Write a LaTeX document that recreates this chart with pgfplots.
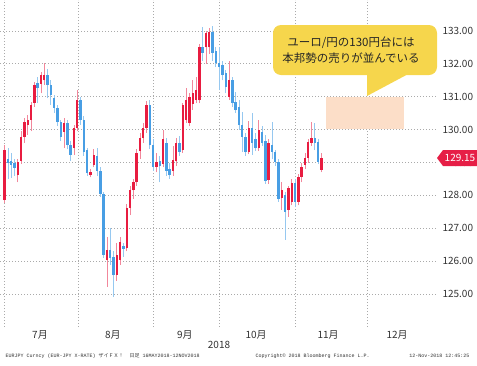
\documentclass[border=0pt]{standalone}
\usepackage{fontspec}
\setmainfont{Noto Sans CJK JP}
\newfontfamily\jp{Noto Sans CJK JP}
\newfontfamily\mono{Liberation Mono}
\usepackage{pgfplots}
\pgfplotsset{compat=1.18}
\usepackage{pgfplotstable}

\definecolor{upc}{RGB}{232,28,64}
\definecolor{upw}{RGB}{242,135,155}
\definecolor{dnc}{RGB}{72,158,228}
\definecolor{dnw}{RGB}{150,200,240}
\definecolor{gridc}{RGB}{170,170,170}
\definecolor{bubble}{RGB}{246,214,76}
\definecolor{zone}{RGB}{252,222,200}
\definecolor{tagc}{RGB}{230,30,70}
\definecolor{txt}{RGB}{50,50,50}

% up candles (close > open)
\pgfplotstableread{
k O H L C
0 127.86 129.53 127.78 129.38
4 128.62 129.10 128.40 129.02
5 129.05 129.95 128.95 129.78
6 129.78 130.35 129.60 130.23
7 130.14 130.45 129.85 130.30
8 130.29 130.85 129.95 130.75
9 130.81 131.45 130.70 131.36
11 131.40 131.75 131.10 131.66
12 131.50 132.03 131.35 131.66
18 129.93 130.35 129.44 130.20
21 129.44 130.15 129.23 130.05
22 130.05 131.21 129.95 130.90
26 128.62 128.80 128.55 128.72
27 128.93 129.40 128.85 129.23
31 126.04 126.74 125.22 126.34
34 125.58 126.56 125.40 126.19
35 126.04 126.75 125.90 126.59
37 126.40 127.75 126.30 127.62
38 127.62 128.30 127.40 128.15
39 128.15 128.50 127.90 128.40
40 128.40 129.40 128.30 129.30
41 129.35 129.90 129.10 129.75
42 129.75 130.20 129.60 130.05
43 130.05 130.87 129.90 130.75
46 128.87 129.30 128.70 129.02
48 128.95 129.99 128.85 129.70
51 128.75 129.50 128.60 129.08
52 129.05 129.75 128.90 129.60
54 129.38 130.80 129.30 130.75
55 130.30 131.27 130.20 130.90
56 130.20 131.10 130.10 131.00
57 130.77 131.52 130.60 131.12
58 130.90 131.60 130.80 131.20
59 130.90 132.60 130.80 132.50
61 132.50 133.00 132.00 132.94
62 132.50 133.10 132.30 132.97
68 131.00 132.10 130.90 131.51
74 129.32 130.25 129.25 130.05
77 129.44 130.30 129.35 129.99
80 128.47 129.70 128.35 129.60
84 127.92 128.40 127.56 128.17
86 127.56 128.30 127.35 128.23
87 127.80 128.50 127.70 128.38
89 127.80 128.65 127.70 128.56
90 128.56 129.00 128.40 128.87
91 128.93 129.30 128.80 129.14
92 129.14 129.70 129.00 129.63
93 129.60 130.23 129.50 129.75
96 128.78 129.30 128.70 129.15
}\up

% down candles (close < open)
\pgfplotstableread{
k O H L C
1 129.10 129.45 128.50 129.00
2 129.05 129.29 128.53 128.93
3 128.98 129.10 128.60 128.84
10 131.42 131.60 130.80 131.27
13 131.66 131.85 130.95 131.36
14 131.36 131.50 130.75 131.05
15 130.96 131.05 130.50 130.66
16 130.66 130.75 130.10 130.23
17 130.23 130.30 129.65 129.78
19 130.20 130.30 129.40 129.53
20 129.53 129.65 129.05 129.23
23 130.90 131.00 130.15 130.29
24 130.29 130.40 129.20 129.32
25 129.38 129.45 128.60 128.68
28 129.20 129.45 128.60 128.75
29 128.75 128.85 127.95 128.05
30 128.05 128.10 126.10 126.20
32 126.34 127.01 125.90 126.10
33 126.13 126.30 124.91 125.58
36 126.45 126.56 126.13 126.38
44 130.75 130.90 129.40 129.53
45 129.53 129.70 128.75 128.87
47 129.05 129.20 128.40 128.90
49 129.60 129.75 128.60 128.75
50 128.80 129.00 128.50 128.62
53 129.60 129.80 129.20 129.32
60 132.50 133.12 132.10 132.33
63 132.97 133.15 132.10 132.33
64 132.40 132.50 131.90 132.03
65 132.03 132.50 131.20 131.90
66 131.96 132.10 131.50 131.66
67 131.72 131.80 131.10 131.30
69 131.51 131.60 130.70 130.81
70 130.85 131.15 130.50 130.60
71 130.70 130.90 130.00 130.14
72 130.14 130.54 129.32 129.78
73 129.78 129.90 129.20 129.32
75 130.05 130.50 129.23 129.60
76 129.70 129.90 129.35 129.44
78 129.93 130.10 129.50 129.60
79 129.65 129.85 128.35 128.45
81 129.53 130.23 129.10 129.32
82 129.32 129.38 128.90 129.02
83 129.02 129.10 127.80 127.90
85 128.00 128.10 126.65 127.50
88 128.38 128.50 127.65 127.80
94 129.75 130.20 129.38 129.60
95 129.63 129.70 128.95 129.02
}\down

\begin{document}
\begin{tikzpicture}
\path[use as bounding box] (0,0) rectangle (477pt,-365pt);
\begin{axis}[
  at={(0pt,0pt)}, anchor=north west,
  scale only axis, width=437pt, height=327pt,
  xmin=-1.42, xmax=131, ymin=124.0, ymax=133.94,
  axis line style={draw=none},
  tick style={draw=none},
  xtick={-0.2,22.2,44.9,64.9,88,109.8},
  xticklabels={},
  ytick={125,126,...,133},
  yticklabel pos=right,
  yticklabel={\pgfmathprintnumber[fixed,fixed zerofill,precision=2]{\tick}},
  /pgf/number format/assume math mode=true,
  yticklabel style={xshift=2pt, font=\fontsize{10}{12}\selectfont, text=txt},
  xticklabel style={font=\fontsize{10}{12}\selectfont, text=txt},
  xmajorgrids, ymajorgrids,
  major grid style={draw=gridc, line width=0.7pt, dash pattern=on 1.2pt off 1.8pt},
  extra x ticks={10.7,32.8,54.6,76.2,98,118.9},
  extra x tick labels={7月,8月,9月,10月,11月,12月},
  extra x tick style={grid=none, tick style={draw=none}},
]
\fill[zone] (axis cs:97.4,130.03) rectangle (axis cs:121,131.0);
% wicks
\addplot[draw=none, mark=none, forget plot,
  error bars/.cd, y dir=plus, y explicit, error mark=none,
  error bar style={draw=upw, line width=0.9pt}]
  table[x=k, y=L, y error expr=\thisrow{H}-\thisrow{L}] {\up};
\addplot[draw=none, mark=none, forget plot,
  error bars/.cd, y dir=plus, y explicit, error mark=none,
  error bar style={draw=dnw, line width=0.9pt}]
  table[x=k, y=L, y error expr=\thisrow{H}-\thisrow{L}] {\down};
% bodies
\addplot[draw=none, mark=none, forget plot,
  error bars/.cd, y dir=plus, y explicit, error mark=none,
  error bar style={draw=upc, line width=2.4pt}]
  table[x=k, y=O, y error expr=\thisrow{C}-\thisrow{O}] {\up};
\addplot[draw=none, mark=none, forget plot,
  error bars/.cd, y dir=plus, y explicit, error mark=none,
  error bar style={draw=dnc, line width=2.4pt}]
  table[x=k, y=C, y error expr=\thisrow{O}-\thisrow{C}] {\down};
\end{axis}
% callout
\fill[bubble, rounded corners=8pt] (273pt,-25pt) rectangle (437pt,-75pt);
\fill[bubble] (367pt,-72pt) -- (412pt,-72pt) -- (367pt,-96pt) -- cycle;
\node[font=\fontsize{11.5}{15.5}\selectfont, align=center, text=black!85] at (351pt,-50pt)
  {ユーロ/円の130円台には\\本邦勢の売りが並んでいる};
% price tag
\fill[tagc] (437pt,-158pt) -- (443pt,-150pt) -- (477pt,-150pt) -- (477pt,-166pt) -- (443pt,-166pt) -- cycle;
\node[font=\fontsize{10}{12}\selectfont, text=white] at (460pt,-158pt) {129.15};
% labels
\node[font=\fontsize{10}{12}\selectfont, text=txt] at (219pt,-345pt) {2018};
\node[anchor=west, font=\mono\fontsize{5}{6}\selectfont, text=txt] at (2pt,-356pt)
  {EURJPY Curncy (EUR-JPY X-RATE) {\jp ザイＦＸ！} \ {\jp 日足} 16MAY2018-12NOV2018};
\node[anchor=west, font=\mono\fontsize{5}{6}\selectfont, text=txt] at (252pt,-356pt)
  {Copyright© 2018 Bloomberg Finance L.P.};
\node[anchor=east, font=\mono\fontsize{5}{6}\selectfont, text=txt] at (473pt,-356pt)
  {12-Nov-2018 12:45:25};
\end{tikzpicture}
\end{document}
